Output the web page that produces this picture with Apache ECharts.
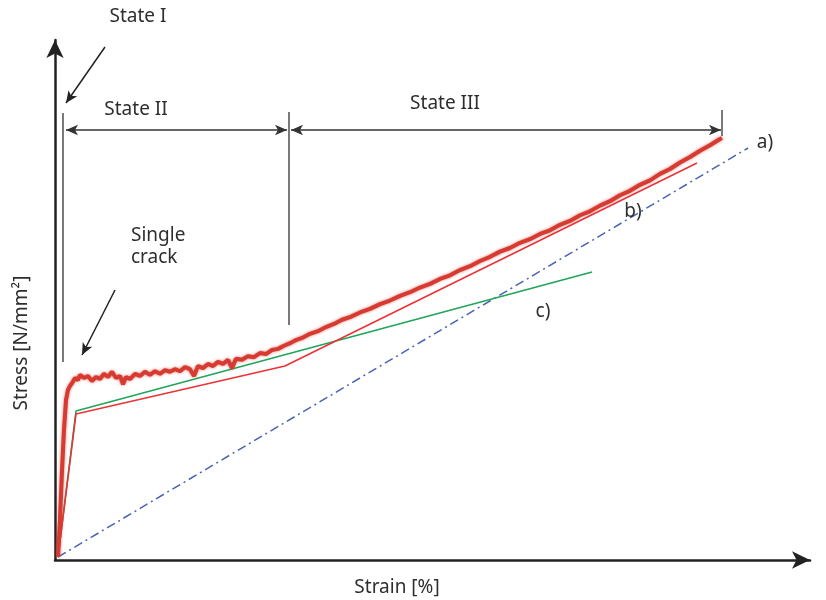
<!DOCTYPE html>
<html>
<head>
<meta charset="utf-8">
<script src="https://cdn.jsdelivr.net/npm/echarts@6/dist/echarts.min.js"></script>
<style>html,body{margin:0;padding:0;background:#fff}#c{width:826px;height:600px}</style>
</head>
<body>
<div id="c"></div>
<script>
// Measured curve a) (strain, stress) in relative units 0..100
const curveA = [
  [0.40,0.58],[0.66,7.7],[0.93,17.3],[1.19,25.0],[1.46,30.8],[1.72,32.7],[1.99,33.5],[2.25,34.0],
  [2.65,35.0],[3.05,34.6],[3.31,35.6],[3.84,35.0],[4.37,35.4],[4.90,34.4],[5.43,35.2],[5.96,34.8],
  [6.49,35.8],[7.02,35.2],[7.55,36.2],[8.08,35.0],[8.61,35.4],[9.01,33.8],[9.40,35.2],[9.93,34.8],
  [10.60,35.8],[11.26,35.4],[11.92,36.2],[12.58,35.6],[13.25,36.3],[13.91,35.8],[14.57,36.5],[15.23,36.2],
  [15.89,36.7],[16.56,36.3],[17.22,37.1],[17.88,36.7],[18.41,35.4],[18.94,37.3],[19.60,36.9],[20.26,37.7],
  [20.93,37.3],[21.59,38.1],[22.25,37.7],[22.91,38.5],[23.44,36.9],[23.97,38.7],[24.77,38.5],[25.56,39.2],
  [26.36,39.0],[27.15,39.8],[27.95,39.6],[28.74,40.4],[29.54,40.6],[30.33,41.2],[31.13,41.7],[31.92,42.3],
  [32.72,42.7],[33.77,43.5],[34.83,44.0],[35.89,44.8],[36.95,45.4],[38.01,46.2],[39.07,46.7],
  [40.40,47.6],[41.72,48.3],[43.05,49.2],[44.37,49.9],[45.70,50.8],[47.02,51.5],[48.34,52.4],[49.67,53.1],
  [50.99,54.05],[52.32,54.75],[53.64,55.75],[54.97,56.5],[56.29,57.5],[57.62,58.3],[58.94,59.3],[60.26,60.0],
  [61.59,61.0],[62.91,61.7],[64.24,62.7],[65.56,63.4],[66.89,64.45],[68.21,65.2],[69.54,66.3],[70.86,67.05],
  [72.19,68.15],[73.51,69.0],[74.83,70.15],[76.16,71.0],[77.48,72.15],[78.81,73.0],[80.13,74.25],[81.46,75.2],
  [82.78,76.45],[84.11,77.5],[85.43,78.7],[86.75,79.75],[88.08,80.95],[88.34,81.15]
];
// Model b) trilinear
const curveB = [[0.40,0.58],[2.78,28.08],[30.46,37.31],[85.03,76.35]];
// Model c) bilinear
const curveC = [[0.40,0.58],[2.78,28.65],[71.13,55.38]];
// Linear reference (dash-dot)
const curveLin = [[0.40,0.58],[91.79,79.23]];

// State boundaries (strain) and annotation extents
const stateBounds = [
  {x: 1.06, y0: 38.08, y1: 85.96},
  {x: 30.99, y0: 45.19, y1: 86.15},
  {x: 88.34, y0: 81.54, y1: 86.54}
];
const spanY = 82.69;
const spans = [[1.46, 30.73], [31.26, 88.21]];
const pointers = [
  [[6.62, 98.65], [1.46, 87.88]],
  [[7.95, 51.92], [3.58, 39.42]]
];

const chart = echarts.init(document.getElementById('c'), null, {renderer: 'canvas'});
const txtColor = '#2e2e2e';
const font = '"Noto Sans", "DejaVu Sans", sans-serif';

function txt(x, y, s, extra) {
  return {
    type: 'text', x: x, y: y, z: 100,
    style: Object.assign({text: s, fill: txtColor, font: '19px ' + font, align: 'center', verticalAlign: 'middle'}, extra || {})
  };
}

const markLineData = [];
stateBounds.forEach(b => markLineData.push([{coord: [b.x, b.y0], symbol: 'none'}, {coord: [b.x, b.y1], symbol: 'none', lineStyle: {color: '#7a7a7a', width: 2, type: 'solid'}}]));
spans.forEach(s => markLineData.push([{coord: [s[0], spanY], symbol: 'arrow'}, {coord: [s[1], spanY], symbol: 'arrow', lineStyle: {color: '#333', width: 1.5, type: 'solid'}}]));
pointers.forEach(p => markLineData.push([{coord: p[0], symbol: 'none'}, {coord: p[1], symbol: 'arrow', lineStyle: {color: '#222', width: 1.5, type: 'solid'}}]));

chart.setOption({
  animation: false,
  grid: {left: 55, right: 16, top: 40, bottom: 40},
  xAxis: {
    type: 'value', min: 0, max: 100,
    axisLine: {show: true, lineStyle: {color: '#222', width: 2.5}, symbol: ['none', 'arrow'], symbolSize: [13, 18], symbolOffset: [0, 0]},
    axisTick: {show: false}, axisLabel: {show: false}, splitLine: {show: false}
  },
  yAxis: {
    type: 'value', min: 0, max: 100,
    axisLine: {show: true, lineStyle: {color: '#222', width: 2.5}, symbol: ['none', 'arrow'], symbolSize: [13, 18], symbolOffset: [0, 0]},
    axisTick: {show: false}, axisLabel: {show: false}, splitLine: {show: false}
  },
  series: [
    {type: 'line', data: curveLin, showSymbol: false, z: 2,
      lineStyle: {color: '#4a62b4', width: 1.5, type: [9, 4, 2, 4]}},
    {type: 'line', data: curveC, showSymbol: false, z: 3,
      lineStyle: {color: '#1fa65a', width: 1.6}},
    {type: 'line', data: curveB, showSymbol: false, z: 4,
      lineStyle: {color: '#ec3236', width: 1.6}},
    {type: 'line', data: curveA, showSymbol: false, z: 5,
      lineStyle: {color: '#d63a30', width: 4, shadowBlur: 3, shadowColor: 'rgba(214,58,48,0.7)'},
      markLine: {silent: true, symbolSize: [8, 12], label: {show: false}, animation: false, data: markLineData}}
  ],
  graphic: [
    txt(138, 17, 'State I'),
    txt(136, 110, 'State II'),
    txt(445, 104, 'State III'),
    txt(131, 236, 'Single', {align: 'left'}),
    txt(131, 258, 'crack', {align: 'left'}),
    txt(765, 143, 'a)'),
    txt(633, 212, 'b)'),
    txt(543, 312, 'c)'),
    txt(397, 588, 'Strain [%]'),
    {type: 'text', x: 22, y: 343, rotation: Math.PI / 2, z: 100,
      style: {text: 'Stress [N/mm²]', fill: txtColor, font: '19px ' + font, align: 'center', verticalAlign: 'middle'}}
  ]
});
</script>
</body>
</html>
